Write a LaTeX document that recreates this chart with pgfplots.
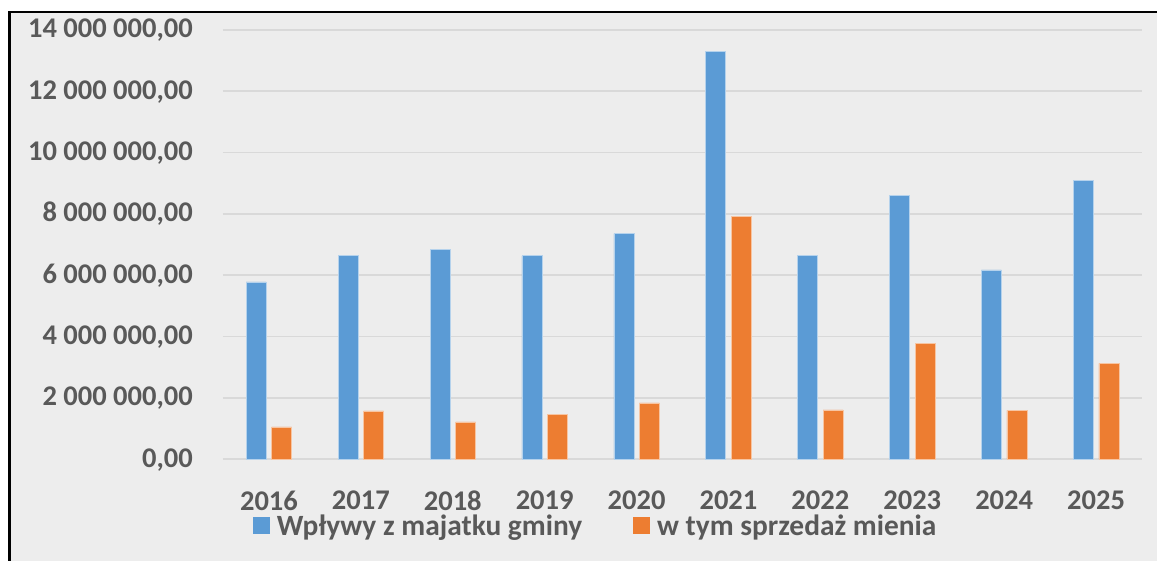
\documentclass[border=0pt]{standalone}
\usepackage{pgfplots}
\pgfplotsset{compat=1.18}
\usepackage{fontspec}
\setmainfont{Carlito}
\definecolor{bgc}{HTML}{EDEDED}
\definecolor{gridc}{HTML}{D9D9D9}
\definecolor{txt}{HTML}{595959}
\definecolor{cblue}{HTML}{5B9BD5}
\definecolor{corange}{HTML}{ED7D31}
\begin{document}
\begin{tikzpicture}
\useasboundingbox (0pt,0pt) rectangle (1157pt,-561pt);
\fill[bgc] (10.5pt,-13.5pt) rectangle (1157pt,-561pt);
\draw[line width=2.6pt] (9.2pt,-561pt) -- (9.2pt,-12.2pt) -- (1157pt,-12.2pt);
\begin{axis}[
  at={(223pt,-459pt)}, anchor=south west,
  scale only axis, width=919pt, height=429.1pt,
  xmin=-0.5, xmax=9.5, ymin=0, ymax=14000000,
  scaled y ticks=false,
  ybar=5.5pt, bar width=20pt,
  axis line style={draw=none}, tick style={draw=none},
  ymajorgrids, grid style={gridc, line width=1.75pt},
  xtick={0,...,9},
  xticklabels={2016,2017,2018,2019,2020,2021,2022,2023,2024,2025},
  ytick={0,2000000,4000000,6000000,8000000,10000000,12000000,14000000},
  yticklabels={{0,00},{2 000 000,00},{4 000 000,00},{6 000 000,00},{8 000 000,00},{10 000 000,00},{12 000 000,00},{14 000 000,00}},
  every tick label/.append style={font=\fontsize{28.5}{34}\selectfont\bfseries, text=txt, inner sep=0pt},
  yticklabel style={anchor=base east, xshift=-30pt, yshift=-8pt},
  xticklabel style={anchor=north, yshift=-27.7pt},
  legend columns=2,
  legend style={at={(axis description cs:0.0323,-0.156)}, anchor=west, draw=none, fill=none,
    inner sep=0pt, font=\fontsize{29.4}{33}\selectfont\bfseries, text=txt,
    nodes={inner sep=0pt},
    /tikz/every odd column/.append style={column sep=7pt},
    /tikz/every even column/.append style={column sep=51pt}},
  legend image code/.code={\fill[#1,draw=none] (0pt,-8pt) rectangle (17pt,9pt);},
]
\addplot[fill=cblue, draw=white!55!cblue, line width=0.6pt] coordinates {
(0,5780000) (1,6650000) (2,6850000) (3,6630000) (4,7350000)
(5,13310000) (6,6630000) (7,8590000) (8,6170000) (9,9090000)};
\addplot[fill=corange, draw=white!55!corange, line width=0.6pt] coordinates {
(0,1050000) (1,1570000) (2,1210000) (3,1460000) (4,1830000)
(5,7910000) (6,1600000) (7,3760000) (8,1590000) (9,3120000)};
\legend{Wpływy z majatku gminy, w tym sprzedaż mienia}
\end{axis}
\end{tikzpicture}
\end{document}
